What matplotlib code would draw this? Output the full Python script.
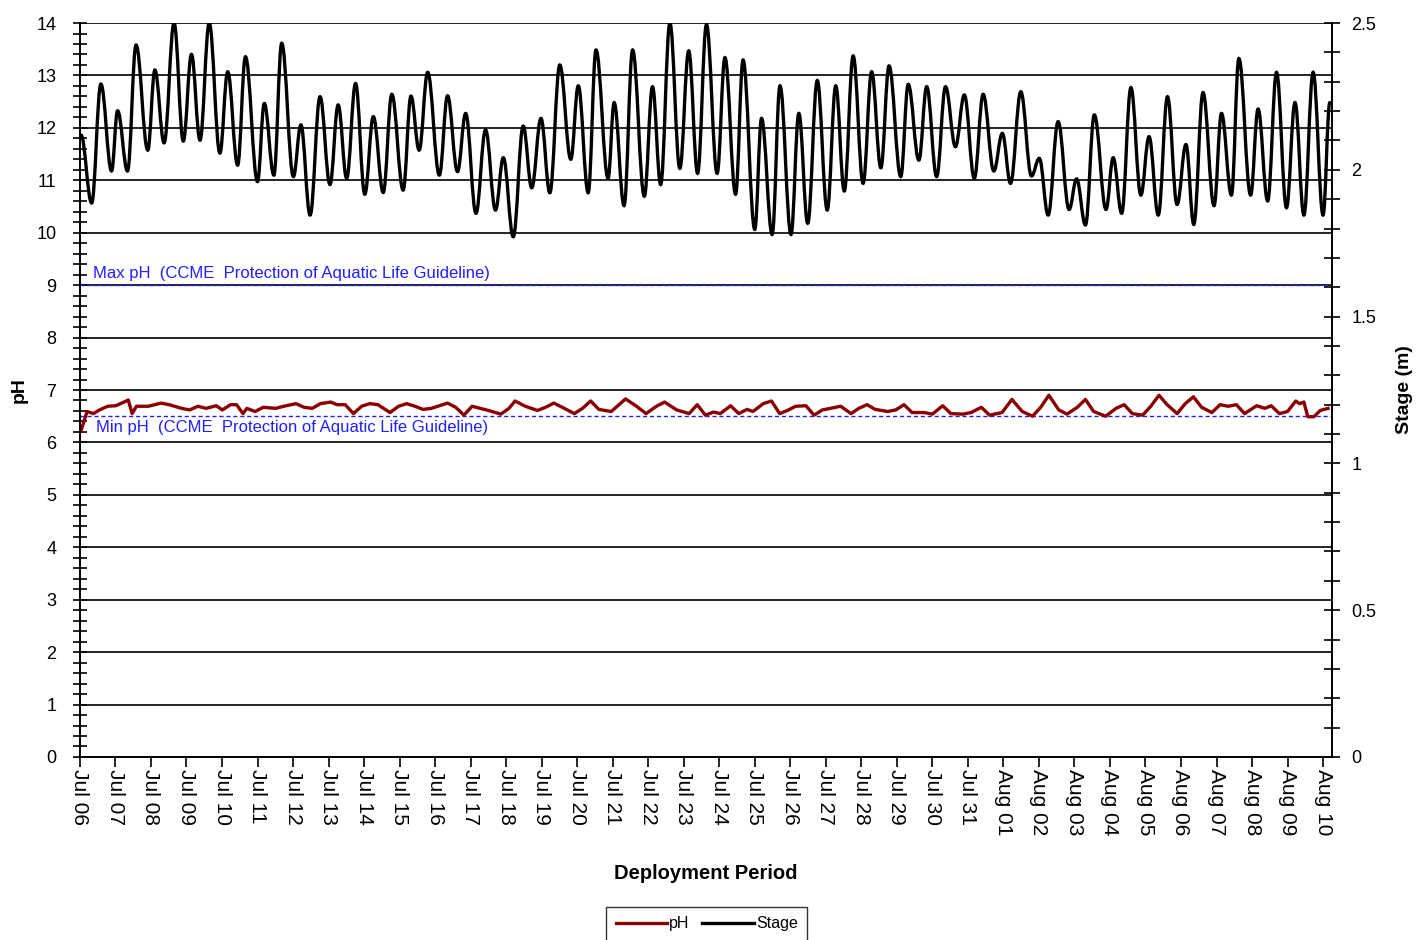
"""Deployment period chart: pH (left axis) against river stage (right axis),
with the CCME aquatic-life min/max pH guidelines drawn as dashed lines."""

import matplotlib

matplotlib.use("Agg")
import matplotlib.pyplot as plt
import pandas as pd
from matplotlib.patches import PathPatch
from matplotlib.path import Path
from matplotlib.lines import Line2D
from matplotlib.ticker import FormatStrFormatter, MultipleLocator

plt.rcParams["font.family"] = ["Liberation Sans", "DejaVu Sans"]

# time axis is days after Jul 06 00:00
DATE_LABELS = pd.date_range("2000-07-06", "2000-08-10", freq="D").strftime("%b %d").tolist()

# stage (m), high/low tide turning points
stage_days = [
    0.03, 0.33, 0.59, 0.89, 1.06, 1.34, 1.58, 1.91, 2.11, 2.37,
    2.65, 2.91, 3.14, 3.38, 3.64, 3.94, 4.16, 4.44, 4.66, 5.00,
    5.19, 5.46, 5.68, 6.01, 6.22, 6.48, 6.76, 7.04, 7.27, 7.51,
    7.76, 8.02, 8.26, 8.54, 8.78, 9.10, 9.32, 9.55, 9.79, 10.12,
    10.35, 10.63, 10.86, 11.15, 11.42, 11.70, 11.92, 12.20, 12.48, 12.72,
    12.98, 13.23, 13.51, 13.82, 14.03, 14.31, 14.53, 14.87, 15.04, 15.32,
    15.56, 15.89, 16.12, 16.35, 16.61, 16.89, 17.14, 17.39, 17.64, 17.94,
    18.16, 18.46, 18.67, 19.00, 19.19, 19.49, 19.71, 20.02, 20.24, 20.49,
    20.76, 21.04, 21.28, 21.52, 21.77, 22.05, 22.29, 22.55, 22.78, 23.11,
    23.32, 23.62, 23.84, 24.12, 24.37, 24.65, 24.90, 25.18, 25.43, 25.73,
    25.97, 26.20, 26.49, 26.79, 27.01, 27.26, 27.54, 27.85, 28.06, 28.31,
    28.56, 28.89, 29.09, 29.33, 29.59, 29.87, 30.10, 30.36, 30.62, 30.89,
    31.14, 31.36, 31.62, 31.93, 32.14, 32.42, 32.63, 32.96, 33.17, 33.44,
    33.69, 33.97, 34.21, 34.46, 34.72, 35.00, 35.19,
]
stage_m = [
    2.118, 1.887, 2.292, 1.996, 2.201, 1.996, 2.425, 2.067, 2.340, 2.092,
    2.500, 2.098, 2.393, 2.101, 2.500, 2.057, 2.334, 2.016, 2.385, 1.960,
    2.226, 1.982, 2.431, 1.977, 2.153, 1.846, 2.249, 1.950, 2.221, 1.971,
    2.294, 1.917, 2.181, 1.923, 2.257, 1.931, 2.251, 2.067, 2.332, 1.982,
    2.252, 1.994, 2.192, 1.852, 2.136, 1.863, 2.041, 1.772, 2.149, 1.939,
    2.175, 1.922, 2.357, 2.036, 2.286, 1.922, 2.408, 1.971, 2.229, 1.878,
    2.408, 1.910, 2.283, 1.950, 2.500, 2.005, 2.405, 1.988, 2.495, 1.988,
    2.382, 1.917, 2.374, 1.797, 2.175, 1.780, 2.286, 1.780, 2.192, 1.818,
    2.304, 1.863, 2.286, 1.928, 2.388, 1.954, 2.334, 2.007, 2.354, 1.977,
    2.291, 2.033, 2.283, 1.977, 2.283, 2.079, 2.255, 1.971, 2.257, 1.996,
    2.124, 1.954, 2.266, 1.979, 2.039, 1.846, 2.164, 1.865, 1.969, 1.812,
    2.187, 1.865, 2.041, 1.852, 2.280, 1.914, 2.113, 1.846, 2.249, 1.882,
    2.086, 1.814, 2.263, 1.878, 2.192, 1.914, 2.379, 1.914, 2.207, 1.894,
    2.332, 1.871, 2.229, 1.846, 2.332, 1.846, 2.229,
]

ph_days = [
    0.03, 0.20, 0.38, 0.55, 0.78, 1.01, 1.24, 1.36, 1.47, 1.59,
    1.93, 2.28, 2.51, 2.86, 3.09, 3.32, 3.55, 3.84, 4.01, 4.24,
    4.41, 4.59, 4.70, 4.93, 5.16, 5.51, 5.74, 6.08, 6.31, 6.54,
    6.77, 7.06, 7.24, 7.47, 7.70, 7.93, 8.16, 8.39, 8.62, 8.73,
    8.97, 9.20, 9.43, 9.66, 9.89, 10.12, 10.35, 10.58, 10.81, 11.04,
    11.27, 11.50, 11.85, 12.08, 12.25, 12.54, 12.88, 13.11, 13.34, 13.58,
    13.92, 14.15, 14.38, 14.61, 14.96, 15.36, 15.65, 15.94, 16.23, 16.46,
    16.80, 17.15, 17.38, 17.61,
    17.84, 18.03, 18.32, 18.55, 18.78, 18.95, 19.24, 19.47, 19.70, 19.92,
    20.15, 20.44, 20.67, 20.90, 21.13, 21.42, 21.71, 21.93, 22.16, 22.39,
    22.74, 22.97, 23.20, 23.43, 23.77, 24.00, 24.29, 24.52, 24.86, 25.09,
    25.38, 25.61, 25.96, 26.24, 26.53, 26.82, 27.05, 27.28, 27.56, 27.79,
    28.08, 28.31, 28.54, 28.88, 29.17, 29.40, 29.63, 29.92, 30.15, 30.38,
    30.61, 30.89, 31.12, 31.35, 31.58, 31.87, 32.10, 32.33, 32.56, 32.79,
    33.13, 33.36, 33.54, 33.77, 34.00, 34.23, 34.34, 34.46, 34.57, 34.74,
    34.92, 35.14,
]
ph_values = [
    6.22, 6.59, 6.55, 6.62, 6.69, 6.70, 6.77, 6.81, 6.55, 6.69,
    6.69, 6.75, 6.72, 6.65, 6.62, 6.69, 6.65, 6.70, 6.62, 6.72,
    6.72, 6.55, 6.65, 6.59, 6.67, 6.65, 6.69, 6.74, 6.67, 6.65,
    6.74, 6.77, 6.72, 6.72, 6.55, 6.69, 6.74, 6.72, 6.62, 6.57,
    6.69, 6.74, 6.69, 6.63, 6.65, 6.70, 6.75, 6.67, 6.52, 6.69,
    6.65, 6.61, 6.54, 6.65, 6.79, 6.69, 6.61, 6.67, 6.75, 6.67,
    6.55, 6.65, 6.79, 6.63, 6.59, 6.83, 6.70, 6.55, 6.69, 6.77,
    6.62, 6.55, 6.72, 6.52,
    6.58, 6.55, 6.70, 6.55, 6.63, 6.59, 6.74, 6.79, 6.55, 6.61,
    6.69, 6.70, 6.52, 6.62, 6.65, 6.69, 6.55, 6.65, 6.72, 6.63,
    6.59, 6.62, 6.72, 6.57, 6.57, 6.54, 6.70, 6.55, 6.54, 6.57,
    6.67, 6.52, 6.57, 6.82, 6.59, 6.50, 6.67, 6.90, 6.62, 6.54,
    6.67, 6.82, 6.59, 6.50, 6.65, 6.72, 6.55, 6.52, 6.69, 6.90,
    6.72, 6.55, 6.74, 6.87, 6.67, 6.57, 6.72, 6.69, 6.72, 6.55,
    6.70, 6.65, 6.70, 6.55, 6.59, 6.79, 6.74, 6.77, 6.49, 6.49,
    6.61, 6.65,
]

PH_MAX_GUIDELINE = 9.0
PH_MIN_GUIDELINE = 6.5
GUIDE_BLUE = "#2020ff"
PH_RED = "#8b0000"


def turning_point_path(days, values):
    # smooth curve through the turning points: cubic bezier segments with a
    # flat tangent at every high/low, the way the logger software draws it
    verts = [(days[0], values[0])]
    codes = [Path.MOVETO]
    for (t0, v0), (t1, v1) in zip(zip(days[:-1], values[:-1]), zip(days[1:], values[1:])):
        dt = (t1 - t0) / 2.6
        verts += [(t0 + dt, v0), (t1 - dt, v1), (t1, v1)]
        codes += [Path.CURVE4] * 3
    return Path(verts, codes)


fig = plt.figure(figsize=(14.25, 9.4), dpi=100)
ax = fig.add_axes([0.0561, 0.1947, 0.8786, 0.7808])
ax2 = ax.twinx()

# guideline lines + labels
ax.axhline(PH_MAX_GUIDELINE, color=GUIDE_BLUE, linestyle=(0, (3, 2)), linewidth=1, zorder=3)
ax.axhline(PH_MIN_GUIDELINE, color=GUIDE_BLUE, linestyle=(0, (3, 2)), linewidth=1, zorder=3)
ax.text(0.37, PH_MAX_GUIDELINE + 0.08, "Max pH  (CCME  Protection of Aquatic Life Guideline)",
        color=GUIDE_BLUE, fontsize=12, va="bottom", ha="left")
ax.text(0.45, PH_MIN_GUIDELINE - 0.08, "Min pH  (CCME  Protection of Aquatic Life Guideline)",
        color=GUIDE_BLUE, fontsize=12, va="top", ha="left")

ax.plot(ph_days, ph_values, color=PH_RED, linewidth=2.4, zorder=4, solid_joinstyle="round")
ax2.add_patch(PathPatch(turning_point_path(stage_days, stage_m), facecolor="none",
                        edgecolor="black", linewidth=2.4, capstyle="round"))

# left axis: pH
ax.set_xlim(0, 35.25)
ax.set_ylim(0, 14)
ax.yaxis.set_major_locator(MultipleLocator(1))
ax.yaxis.set_minor_locator(MultipleLocator(0.2))
ax.grid(axis="y", which="major", color="black", linewidth=1.2)
ax.tick_params(axis="y", which="both", direction="inout", length=10, width=1.2,
               labelsize=13, pad=12)
ax.set_ylabel("pH", fontsize=14, fontweight="bold")
ax.yaxis.set_label_coords(-0.042, 0.5)

# bottom axis: one tick per day
ax.set_xticks(range(len(DATE_LABELS)))
ax.set_xticklabels(DATE_LABELS, rotation=-90, fontsize=15)
ax.tick_params(axis="x", direction="out", length=7, width=1.2, pad=2)
ax.set_xlabel("Deployment Period", fontsize=14.5, fontweight="bold", labelpad=20)

# right axis: stage
ax2.set_ylim(0, 2.5)
ax2.yaxis.set_major_locator(MultipleLocator(0.5))
ax2.yaxis.set_minor_locator(MultipleLocator(0.1))
ax2.yaxis.set_major_formatter(FormatStrFormatter("%g"))
ax2.tick_params(axis="y", which="both", direction="inout", length=12, width=1.2,
                labelsize=13, pad=8)
ax2.set_ylabel("Stage (m)", fontsize=14, fontweight="bold", rotation=90, labelpad=14)

for a in (ax, ax2):
    a.spines["top"].set_visible(False)
    for side in ("left", "right", "bottom"):
        a.spines[side].set_linewidth(1.2)

handles = [Line2D([], [], color=PH_RED, linewidth=2.4), Line2D([], [], color="black", linewidth=2.4)]
fig.legend(handles, ["pH", "Stage"], loc="upper center",
           bbox_to_anchor=(0.496, 0.044), ncol=2, fontsize=11.5, frameon=True,
           fancybox=False, edgecolor="black", handlelength=3.2, handletextpad=0.15,
           columnspacing=0.8, borderpad=0.6)

fig.savefig("out.png", dpi=100)
